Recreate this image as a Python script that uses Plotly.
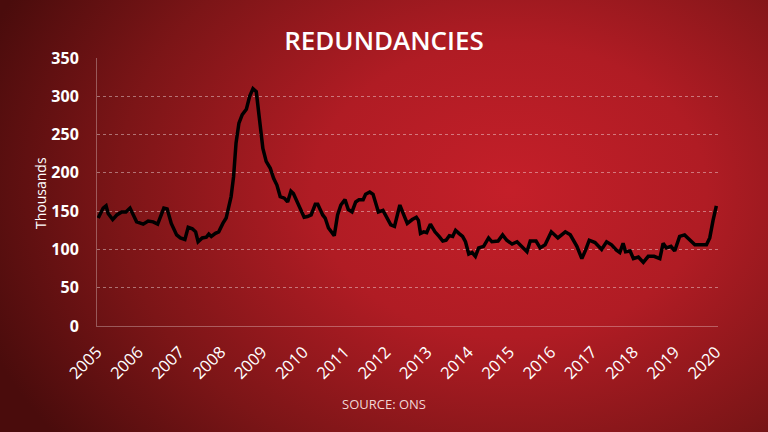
import base64
import plotly.graph_objects as go

# ---- data (decimal year, thousands) ----
years = [2005.03, 2005.15, 2005.22, 2005.27, 2005.38, 2005.48, 2005.60, 2005.70, 2005.80, 2005.96,
         2006.12, 2006.24, 2006.36, 2006.47, 2006.62, 2006.70, 2006.80, 2006.93, 2007.02, 2007.13,
         2007.21, 2007.31, 2007.39, 2007.45, 2007.55, 2007.65, 2007.71, 2007.77, 2007.87, 2007.95,
         2008.05, 2008.13, 2008.25, 2008.31, 2008.37, 2008.44, 2008.52, 2008.62, 2008.70, 2008.78,
         2008.86, 2008.94, 2009.02, 2009.10, 2009.20, 2009.28, 2009.36, 2009.44, 2009.54, 2009.62,
         2009.70, 2009.76, 2009.86, 2010.02, 2010.10, 2010.19, 2010.29, 2010.35, 2010.47, 2010.53,
         2010.61, 2010.75, 2010.83, 2010.91, 2011.01, 2011.09, 2011.18, 2011.27, 2011.35, 2011.45,
         2011.51, 2011.61, 2011.69, 2011.82, 2011.93, 2012.04, 2012.12, 2012.21, 2012.34, 2012.42,
         2012.52, 2012.64, 2012.74, 2012.79, 2012.84, 2012.92, 2012.99, 2013.08, 2013.19, 2013.29,
         2013.38, 2013.46, 2013.54, 2013.62, 2013.69, 2013.77, 2013.86, 2013.93, 2014.01, 2014.09,
         2014.17, 2014.25, 2014.37, 2014.49, 2014.57, 2014.72, 2014.83, 2014.93, 2015.06, 2015.18,
         2015.28, 2015.42, 2015.50, 2015.64, 2015.74, 2015.86, 2016.01, 2016.17, 2016.35, 2016.47,
         2016.63, 2016.75, 2016.84, 2016.93, 2017.07, 2017.23, 2017.35, 2017.47, 2017.59, 2017.67,
         2017.75, 2017.81, 2017.92, 2018.00, 2018.12, 2018.24, 2018.36, 2018.50, 2018.64, 2018.72,
         2018.80, 2018.91, 2019.00, 2019.12, 2019.24, 2019.37, 2019.49, 2019.77, 2019.85, 2019.93,
         2020.01]
redundancies = [141, 154, 157, 147, 139, 145, 149, 149, 154, 136,
                133, 137, 136, 133, 154, 153, 134, 119, 115, 113,
                129, 127, 123, 110, 115, 116, 120, 117, 121, 123,
                134, 141, 169, 195, 239, 265, 276, 283, 300, 310,
                306, 273, 232, 215, 206, 193, 184, 169, 167, 162,
                176, 173, 160, 142, 143, 145, 159, 159, 145, 141,
                128, 118, 145, 158, 165, 152, 149, 162, 165, 165,
                172, 175, 172, 149, 151, 141, 132, 130, 158, 147,
                134, 139, 142, 138, 121, 123, 122, 133, 123, 117,
                111, 112, 118, 117, 125, 121, 117, 110, 94, 96,
                91, 102, 104, 115, 110, 111, 119, 112, 107, 110,
                104, 97, 111, 111, 102, 106, 123, 115, 123, 119,
                104, 88, 99, 112, 109, 100, 110, 106, 99, 96,
                108, 97, 98, 88, 90, 83, 91, 91, 88, 108,
                102, 104, 98, 117, 119, 112, 106, 106, 115, 138,
                157]
year_ticks = list(range(2005, 2021))
y_ticks = [0, 50, 100, 150, 200, 250, 300, 350]

W, H = 768, 432
ML, MR, MT, MB = 97, 50, 58, 106
PW, PH = W - ML - MR, H - MT - MB

# radial gradient background as SVG data URI
svg = f'''<svg xmlns="http://www.w3.org/2000/svg" width="{W}" height="{H}" viewBox="0 0 {W} {H}">
<defs><radialGradient id="g" gradientUnits="userSpaceOnUse" cx="510" cy="190" r="560"
 gradientTransform="translate(510 190) scale(1 0.75) translate(-510 -190)">
<stop offset="0" stop-color="#c41f29"/>
<stop offset="0.35" stop-color="#b01c24"/>
<stop offset="0.7" stop-color="#7c1517"/>
<stop offset="1" stop-color="#4a0c0c"/>
</radialGradient></defs>
<rect width="{W}" height="{H}" fill="url(#g)"/></svg>'''
bg = "data:image/svg+xml;base64," + base64.b64encode(svg.encode()).decode()

fig = go.Figure()
fig.add_trace(go.Scatter(x=years, y=redundancies, mode="lines",
                         line=dict(color="black", width=3.5), hoverinfo="skip",
                         showlegend=False))

fig.update_layout(
    width=W, height=H,
    margin=dict(l=ML, r=MR, t=MT, b=MB),
    paper_bgcolor="#8e181c",
    plot_bgcolor="rgba(0,0,0,0)",
    font=dict(family="Open Sans", color="white"),
    title=dict(text="REDUNDANCIES", x=0.5, xanchor="center", xref="container",
               y=1 - 41 / H, yanchor="middle", yref="container",
               font=dict(size=26, color="white", family="Open Sans", weight=600)),
    images=[dict(source=bg, xref="paper", yref="paper",
                 x=-ML / PW, y=1 + MT / PH, sizex=W / PW, sizey=H / PH,
                 xanchor="left", yanchor="top", sizing="stretch", layer="below")],
    xaxis=dict(range=[2005, 2020.05], tickvals=year_ticks,
               ticktext=[str(y) for y in year_ticks], tickangle=-45,
               tickfont=dict(size=16.5, color="white"),
               showgrid=False, zeroline=False,
               showline=True, linecolor="rgba(255,255,255,0.3)", linewidth=1,
               ticks="outside", ticklen=9, tickcolor="rgba(0,0,0,0)"),
    yaxis=dict(range=[0, 350], tickvals=y_ticks,
               tickfont=dict(size=16, color="white", family="Open Sans", weight="bold"),
               showgrid=True, gridcolor="rgba(255,255,255,0.4)", griddash="dot", gridwidth=1,
               zeroline=False,
               showline=True, linecolor="rgba(255,255,255,0.3)", linewidth=1,
               ticks="outside", ticklen=14, tickcolor="rgba(0,0,0,0)"),
    annotations=[
        dict(text="Thousands", xref="paper", yref="paper", x=(40 - ML) / PW,
             y=(MT + PH - 193) / PH, textangle=-90, showarrow=False,
             font=dict(size=14, color="white"), xanchor="center", yanchor="middle"),
        dict(text="SOURCE: ONS", xref="paper", yref="paper", x=(384 - ML) / PW,
             y=(MT + PH - 404) / PH, showarrow=False,
             font=dict(size=13, color="#f1d6d6"), xanchor="center", yanchor="middle"),
    ],
)

fig.write_html("out.html")
